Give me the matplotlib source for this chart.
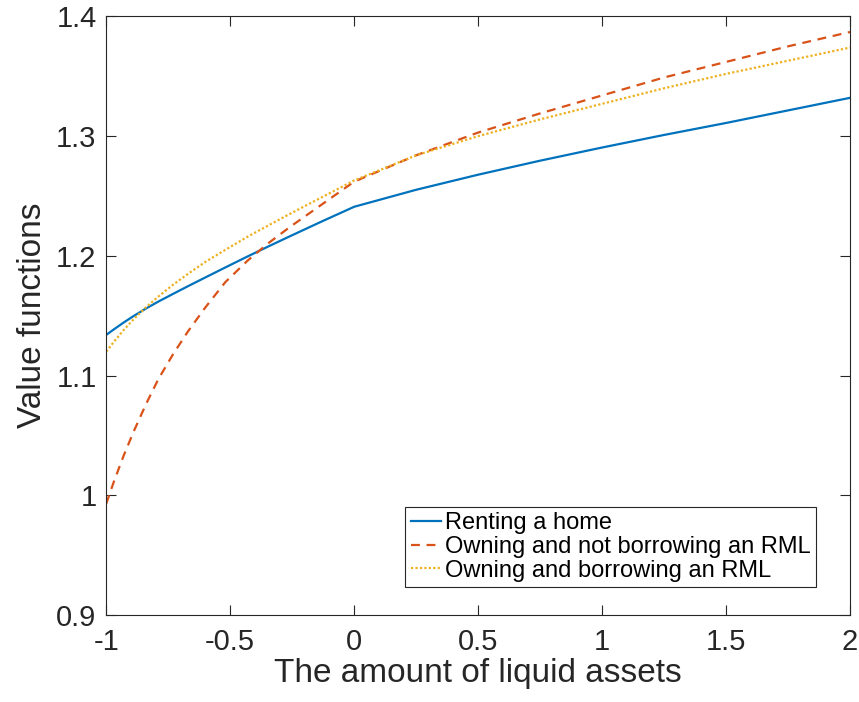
import numpy as np
import matplotlib.pyplot as plt

plt.rcParams['font.family'] = ['Liberation Sans', 'DejaVu Sans']

# liquid asset grid
x = [-1, -0.97, -0.93, -0.89, -0.84, -0.79, -0.73, -0.67, -0.6, -0.52, -0.43,
     -0.35, -0.26, -0.13, 0, 0.25, 0.5, 0.75, 1, 1.25, 1.5, 1.75, 2]

# value functions
renting = [1.134, 1.1385, 1.1443, 1.1497, 1.156, 1.1618, 1.1683, 1.1747, 1.182, 1.1903, 1.1995,
           1.2075, 1.2163, 1.2288, 1.241, 1.2552, 1.2678, 1.2795, 1.2905, 1.301, 1.311, 1.3215, 1.332]
own_no_rml = [0.993, 1.011, 1.033, 1.053, 1.076, 1.097, 1.118, 1.137, 1.157, 1.178, 1.196,
              1.210, 1.224, 1.243, 1.262, 1.284, 1.303, 1.319, 1.334, 1.349, 1.362, 1.375, 1.387]
own_rml = [1.120, 1.128, 1.138, 1.147, 1.157, 1.166, 1.176, 1.185, 1.195, 1.205, 1.216,
           1.225, 1.235, 1.249, 1.263, 1.284, 1.300, 1.314, 1.327, 1.340, 1.352, 1.363, 1.374]

labels = ['Renting a home', 'Owning and not borrowing an RML', 'Owning and borrowing an RML']

fig = plt.figure(figsize=(8.59, 7.02), dpi=100)
ax = fig.add_axes([0.1237, 0.1239, 0.8658, 0.8527])

ax.plot(x, renting, color='#0072BD', lw=1.6, label=labels[0])
ax.plot(x, own_no_rml, color='#D95319', lw=1.6, linestyle=(0, (4, 3)), label=labels[1])
ax.plot(x, own_rml, color='#EDB120', lw=1.6, linestyle=(0, (1, 1)), label=labels[2])

ax.set_xlim(-1, 2)
ax.set_ylim(0.9, 1.4)
ax.set_xticks([-1, -0.5, 0, 0.5, 1, 1.5, 2])
ax.set_xticklabels(['-1', '-0.5', '0', '0.5', '1', '1.5', '2'])
ax.set_yticks([0.9, 1.0, 1.1, 1.2, 1.3, 1.4])
ax.set_yticklabels(['0.9', '1', '1.1', '1.2', '1.3', '1.4'])

ax.tick_params(direction='in', top=True, right=True, length=7, width=0.8,
               colors='#262626', labelsize=21)
ax.tick_params(axis='x', pad=9)
ax.tick_params(axis='y', pad=7)
for s in ax.spines.values():
    s.set_color('#262626')
    s.set_linewidth(0.8)

ax.set_xlabel('The amount of liquid assets', fontsize=24, color='#262626', labelpad=2)
ax.set_ylabel('Value functions', fontsize=24, color='#262626', labelpad=6)

leg = ax.legend(loc='lower right', bbox_to_anchor=(0.954, 0.047), borderaxespad=0,
                fontsize=17, fancybox=False, edgecolor='#262626', framealpha=1,
                handlelength=1.3, handletextpad=0.15, labelspacing=0.08,
                borderpad=0.22)
leg.get_frame().set_linewidth(0.8)

plt.savefig('out.png', dpi=100)
